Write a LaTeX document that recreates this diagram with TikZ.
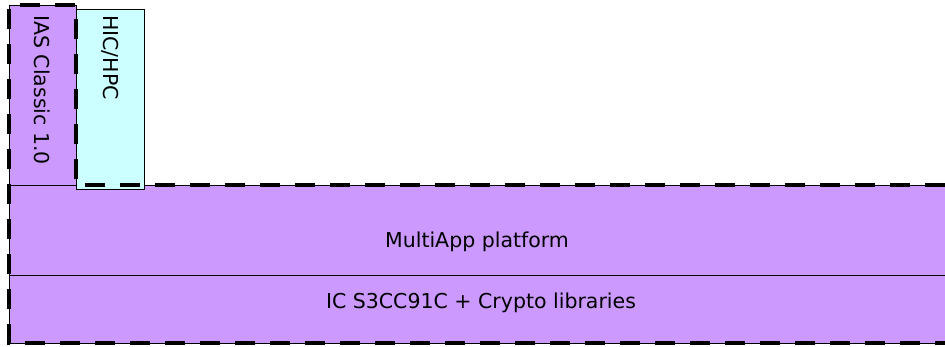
\documentclass[tikz,border=0pt]{standalone}
\usepackage{fontspec}
\setmainfont{DejaVu Sans}
\usepackage{tikz}
\usetikzlibrary{positioning, calc}

\definecolor{appviolet}{HTML}{CC99FF}
\definecolor{hiccyan}{HTML}{CCFFFF}

\tikzset{
  layer/.style={draw, line width=0.8pt, fill=appviolet},
  boundary/.style={draw, line width=3.5pt, dash pattern=on 20pt off 15pt},
  label/.style={font=\fontsize{20.5}{24}\selectfont}
}

\begin{document}
\begin{tikzpicture}[x=1pt, y=-1pt]
      \clip (0,0) rectangle (945,347);
      \fill[white] (0,0) rectangle (945,347);

      % applets on top
      \draw[layer] (9,5) rectangle (76,185);
      \node[label, rotate=-90, anchor=west, inner sep=0pt] (ias) at (42,15) {IAS Classic 1.0};

      % platform layers
      \draw[layer] (9,185) rectangle (960,275);
      \node[label] (platform) at (477,242) {MultiApp platform};
      \draw[layer] (9,275) rectangle (960,343);
      \node[label] (ic) at (481,303) {IC S3CC91C + Crypto libraries};

      \draw[layer, fill=hiccyan] (76,9) rectangle (144,189);
      \node[label, rotate=-90, anchor=west, inner sep=0pt] (hic) at (110,15) {HIC/HPC};

      % TOE boundary
      \draw[boundary] (990,343) -- (9,343) -- (9,5) -- (76,5) -- (76,185) -- (990,185);
    \end{tikzpicture}
\end{document}
